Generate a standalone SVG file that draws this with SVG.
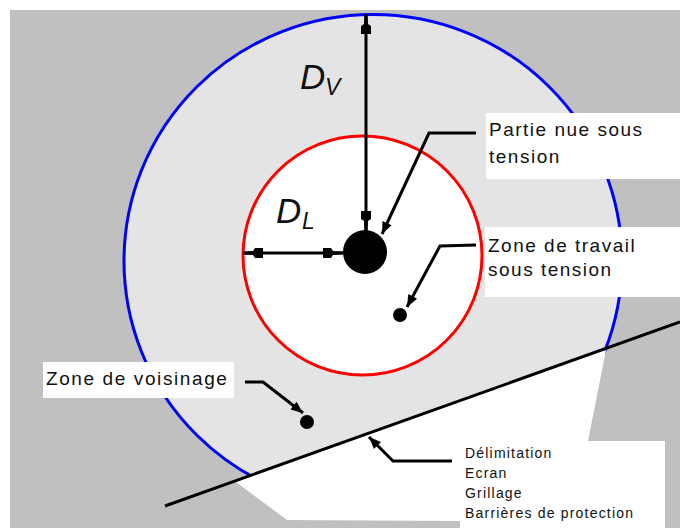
<svg xmlns="http://www.w3.org/2000/svg" width="680" height="528" viewBox="0 0 680 528">
<defs>
<style>
.lbl{font-family:"Liberation Sans",Arial,sans-serif;font-size:19px;letter-spacing:1.5px;fill:#111}
.sm{font-family:"Liberation Sans",Arial,sans-serif;font-size:14px;letter-spacing:1.2px;fill:#111}
.dim{font-family:"Liberation Sans",Arial,sans-serif;font-style:italic;fill:#111}
.box{fill:#ffffff}
.ln{fill:none;stroke:#000;stroke-width:3}
</style>
<marker id="dimEnd" markerUnits="userSpaceOnUse" viewBox="-22 -7 23 14" refX="0" refY="0" markerWidth="23" markerHeight="14" orient="auto-start-reverse">
<polygon points="0,-1.5 0,1.5 -10,2 -12,5 -20,5 -20,-5 -12,-5 -10,-2" fill="#000"/>
</marker>
<marker id="arr" markerUnits="userSpaceOnUse" viewBox="-13 -6 14 12" refX="0" refY="0" markerWidth="14" markerHeight="12" orient="auto">
<polygon points="0,0 -12,-5 -12,5" fill="#000"/>
</marker>
</defs>
<rect x="0" y="0" width="680" height="528" fill="#ffffff"/>
<rect x="10" y="10" width="670" height="518" fill="#c0c0c0"/>
<g id="zone-voisinage">
<ellipse cx="373" cy="261" rx="249" ry="246.5" fill="#e4e4e4" stroke="#0000ff" stroke-width="3"/>
</g>
<g id="zone-protegee">
<polygon points="236,482 606,350 588,441 665,441 665,528 460,528 460,521 287,520" fill="#ffffff"/>
</g>
<g id="zone-travail">
<circle cx="362.5" cy="255.5" r="119.5" fill="#ffffff" stroke="#ff0000" stroke-width="3"/>
</g>
<g id="barriere">
<line x1="165" y1="506" x2="680" y2="322" stroke="#000" stroke-width="3"/>
</g>
<g id="connectors">
<line class="ln" x1="366" y1="231" x2="366" y2="14" marker-start="url(#dimEnd)" marker-end="url(#dimEnd)"/>
<line class="ln" x1="343" y1="253" x2="243" y2="253" marker-start="url(#dimEnd)" marker-end="url(#dimEnd)"/>
<polyline class="ln" points="476,133 429,133 382,234" marker-end="url(#arr)"/>
<polyline class="ln" points="476,245 440,246 407,307" marker-end="url(#arr)"/>
<polyline class="ln" points="245,382 263,382 303,413" marker-end="url(#arr)"/>
<polyline class="ln" points="452,461 393,461 369,437" marker-end="url(#arr)"/>
</g>
<g id="partie-nue">
<circle cx="365" cy="252" r="22" fill="#000"/>
<rect class="box" x="486" y="113" width="194" height="66"/>
<text class="lbl" x="489" y="136">Partie nue sous</text>
<text class="lbl" x="489" y="163">tension</text>
</g>
<g id="travail-label">
<circle cx="400" cy="315" r="7" fill="#000"/>
<rect class="box" x="485" y="227" width="195" height="70"/>
<text class="lbl" x="488" y="252">Zone de travail</text>
<text class="lbl" x="488" y="276">sous tension</text>
</g>
<g id="voisinage-label">
<circle cx="307" cy="422" r="7" fill="#000"/>
<rect class="box" x="43" y="362" width="191" height="36"/>
<text class="lbl" x="46" y="385" style="letter-spacing:1.6px">Zone de voisinage</text>
</g>
<g id="delimitation-label">
<rect class="box" x="460" y="441" width="205" height="87"/>
<text class="sm" x="465" y="458">Délimitation</text>
<text class="sm" x="465" y="478">Ecran</text>
<text class="sm" x="465" y="498">Grillage</text>
<text class="sm" x="465" y="518">Barrières de protection</text>
</g>
<g id="dv-label">
<text class="dim" x="300" y="89" font-size="35">D</text>
<text class="dim" x="325" y="95" font-size="23">V</text>
</g>
<g id="dl-label">
<text class="dim" x="276" y="223" font-size="35">D</text>
<text class="dim" x="302" y="229" font-size="23">L</text>
</g>
</svg>
